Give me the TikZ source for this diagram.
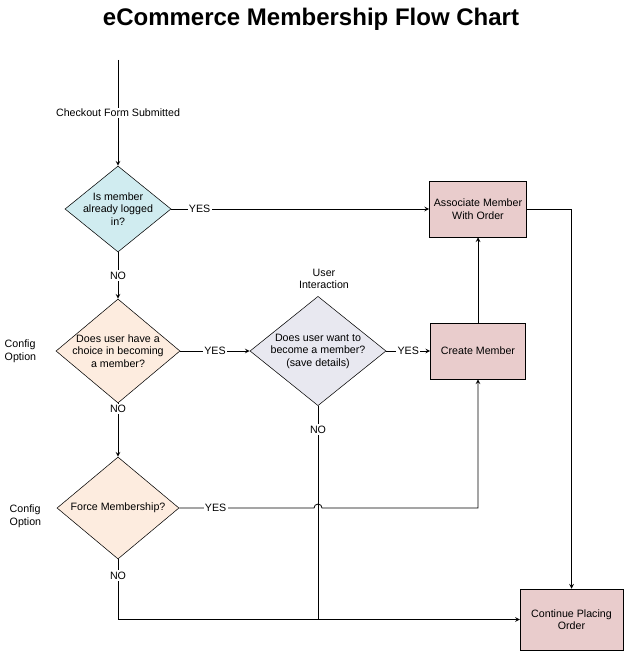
\documentclass[tikz,border=0pt]{standalone}
\usepackage{fontspec}
\setmainfont{Liberation Sans}
\usepackage{xcolor}
\usetikzlibrary{positioning, arrows, shapes.geometric}
\definecolor{loginblue}{RGB}{208,236,240}
\definecolor{optionpeach}{RGB}{253,236,223}
\definecolor{userlilac}{RGB}{232,232,240}
\definecolor{actionpink}{RGB}{233,204,204}
\tikzset{
    >=stealth, % makes the arrow heads bold
    every node/.style={font=\fontsize{8}{9.4}\selectfont}, % small sans text everywhere
    decision/.style={diamond, draw, inner sep=0pt}, % the question goes in as a centre label
    action/.style={rectangle, draw, fill=actionpink, align=center, minimum width=71.25pt, minimum height=42pt},
    flow/.style={draw, line width=0.6pt},
    note/.style={fill=white, inner sep=1pt}, % labels sitting on the lines
}

\begin{document}
\begin{tikzpicture}[x=0.75pt, y=-0.75pt]
    \useasboundingbox (0,0) rectangle (624,652);

    \node[font=\fontsize{18}{21}\selectfont\bfseries] (title) at (311,19) {eCommerce Membership Flow Chart};

    % questions
    \node[decision, fill=loginblue, minimum width=79.5pt, minimum height=64.5pt,
        label={[align=center]center:Is member\\already logged\\in?}] (login) at (118,209) {};
    \node[decision, fill=optionpeach, minimum width=93pt, minimum height=78pt,
        label={[align=center]center:Does user have a\\choice in becoming\\a member?}] (choice) at (118,351) {};
    \node[decision, fill=userlilac, minimum width=102pt, minimum height=82pt,
        label={[align=center]center:Does user want to\\become a member?\\(save details)}] (want) at (318,351) {};
    \node[decision, fill=optionpeach, minimum width=91.5pt, minimum height=76.5pt,
        label={[align=center]center:Force Membership?}] (force) at (118,508) {};

    % actions
    \node[action] (assoc) at (478,209) {Associate Member\\With Order};
    \node[action] (create) at (478,351) {Create Member};
    \node[action, minimum width=77pt, minimum height=45.75pt] (cont) at (571.5,619.5) {Continue Placing\\Order};

    % side notes
    \node[align=left, anchor=west] (opt1) at (0,351) {Config\\Option};
    \node[align=left, anchor=west] (opt2) at (5,516) {Config\\Option};
    \node[align=center] (user) at (324,279) {User\\Interaction};

    % connectors
    \coordinate (start) at (118,60);
    \draw[flow,->] (start) -- node[note]{Checkout Form Submitted} (login.north);
    \draw[flow,->] (login.east) -- node[note, pos=0.11]{YES} (assoc.west);
    \draw[flow,->] (login.south) -- node[note]{NO} (choice.north);
    \draw[flow,->] (choice.east) -- node[note]{YES} (want.west);
    \draw[flow,->] (want.east) -- node[note]{YES} (create.west);
    \draw[flow,->] (create.north) -- (assoc.south);
    \draw[flow,->] (assoc.east) -| (cont.north);
    \draw[flow,->] (choice.south) -- node[note, pos=0.1]{NO} (force.north);

    \coordinate (hop) at (want.south |- force.east);
    \draw[flow,->] (force.east) -- node[note, pos=0.27]{YES} ([xshift=-3pt]hop)
        arc[start angle=180, end angle=0, radius=3pt] -| (create.south);
    \draw[flow,->] (force.south) |- node[note, pos=0.135]{NO} (cont.west);
    \draw[flow] (want.south) -- node[note, pos=0.11]{NO} (want.south |- cont.west);
\end{tikzpicture}
\end{document}
